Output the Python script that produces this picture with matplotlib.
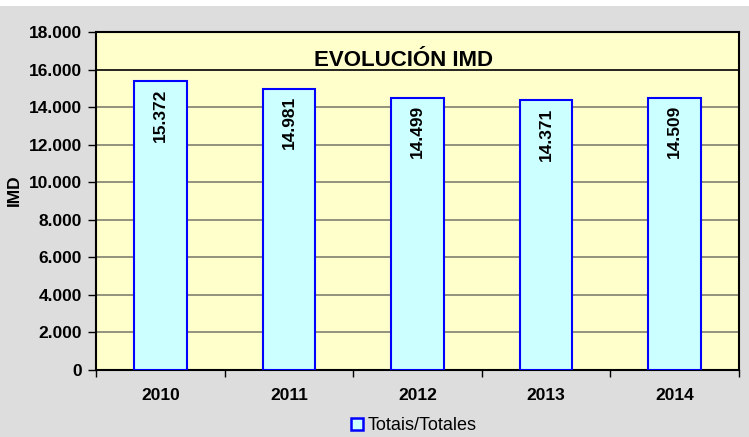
import numpy as np
from matplotlib import pyplot as plt
from matplotlib.lines import Line2D

years = ['2010', '2011', '2012', '2013', '2014']
imd = [15372, 14981, 14499, 14371, 14509]
y_ticks = [0, 2000, 4000, 6000, 8000, 10000, 12000, 14000, 16000, 18000]
y_tick_labels = ['0', '2.000', '4.000', '6.000', '8.000', '10.000',
                 '12.000', '14.000', '16.000', '18.000']
value_labels = ['15.372', '14.981', '14.499', '14.371', '14.509']

plt.rcParams['font.family'] = ['Liberation Sans', 'DejaVu Sans']

fig = plt.figure(figsize=(7.49, 4.37), dpi=100)
fig.patch.set_facecolor('white')
# gray chart area under a thin white strip on top
fig.add_artist(plt.Rectangle((0, 0), 1, 1 - 6 / 437, transform=fig.transFigure,
                             facecolor='#dddddd', edgecolor='none', zorder=0))

ax = fig.add_axes([96 / 749, 1 - 370 / 437, (739 - 96) / 749, (370 - 32) / 437])
ax.set_facecolor('#ffffcc')

x = np.arange(len(years))
ax.bar(x, imd, width=0.41, color='#ccffff', edgecolor='#0000ff', linewidth=1.5, zorder=3)

for i, v in enumerate(imd):
    ax.text(x[i], v - 380, value_labels[i], rotation=90, ha='center', va='top',
            fontsize=12.5, fontweight='bold', zorder=4)

ax.set_xlim(-0.5, len(years) - 0.5)
ax.set_ylim(0, 18000)
ax.set_yticks(y_ticks)
ax.set_yticklabels(y_tick_labels, fontsize=12.5, fontweight='bold')
for t in y_ticks[1:-1]:
    ax.axhline(t, color='black' if t == 16000 else '#808070', linewidth=1.2, zorder=1)

ax.set_xticks(x)
ax.set_xticklabels(years, fontsize=12.5, fontweight='bold')
ax.tick_params(axis='x', length=0, pad=13)
ax.set_xticks(np.arange(-0.5, len(years), 1), minor=True)
ax.tick_params(axis='x', which='minor', length=5, width=1, direction='out')
ax.tick_params(axis='y', length=6, width=1, direction='out', pad=4)

for s in ax.spines.values():
    s.set_linewidth(1.5)
    s.set_color('black')

ax.set_ylabel('IMD', fontsize=12.5, fontweight='bold')
ax.yaxis.set_label_coords(22 / 749, 1 - 190 / 437, transform=fig.transFigure)
ax.text(403 / 749, 1 - 61 / 437, 'EVOLUCIÓN IMD', transform=fig.transFigure,
        ha='center', va='center', fontsize=16, fontweight='bold')

handle = Line2D([], [], marker='s', linestyle='', markersize=8.5,
                markerfacecolor='#ccffff', markeredgecolor='#0000ff', markeredgewidth=1.8)
fig.legend([handle], ['Totais/Totales'], loc='center', bbox_to_anchor=(413 / 749, 1 - 426 / 437),
           frameon=False, fontsize=13, handletextpad=0.15, handlelength=0.9, borderpad=0)

fig.savefig('out.png', dpi=100, facecolor=fig.get_facecolor())
